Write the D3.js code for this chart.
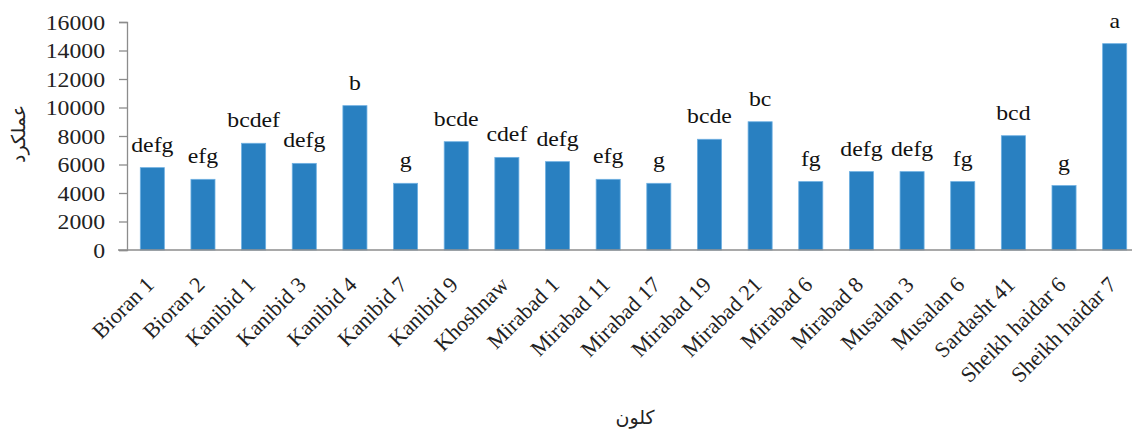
<!DOCTYPE html>
<html>
<head>
<meta charset="utf-8">
<script src="https://cdn.jsdelivr.net/npm/d3@7"></script>
<style>
  html, body { margin: 0; padding: 0; background: #fff; }
  svg { display: block; }
</style>
</head>
<body>
<script>
// Yield per clone with mean-separation letters
const clones = ["Bioran 1", "Bioran 2", "Kanibid 1", "Kanibid 3", "Kanibid 4", "Kanibid 7",
  "Kanibid 9", "Khoshnaw", "Mirabad 1", "Mirabad 11", "Mirabad 17", "Mirabad 19",
  "Mirabad 21", "Mirabad 6", "Mirabad 8", "Musalan 3", "Musalan 6", "Sardasht 41",
  "Sheikh haidar 6", "Sheikh haidar 7"];
const yields = [5780, 4960, 7490, 6080, 10130, 4680, 7600, 6500, 6200, 4960, 4680, 7770,
  9000, 4800, 5500, 5500, 4800, 8020, 4520, 14480];
const letters = ["defg", "efg", "bcdef", "defg", "b", "g", "bcde", "cdef", "defg", "efg", "g",
  "bcde", "bc", "fg", "defg", "defg", "fg", "bcd", "g", "a"];
const yTicks = [0, 2000, 4000, 6000, 8000, 10000, 12000, 14000, 16000];
const yTitle = "عملکرد";
const xTitle = "کلون";

const W = 1132, H = 431;
const plotL = 127, plotR = 1140, plotT = 22, plotB = 250;
const serif = "'Liberation Serif', 'Times New Roman', serif";
const stretch = 1.08; // slightly wide lettering

const svg = d3.select("body").append("svg").attr("width", W).attr("height", H);

const x = d3.scaleBand().domain(clones).range([plotL, plotR])
  .paddingInner(0.525).paddingOuter(0.2625);
const y = d3.scaleLinear().domain([0, 16000]).range([plotB, plotT]);

// bars
svg.append("g").selectAll("rect").data(clones).join("rect")
  .attr("x", d => x(d))
  .attr("y", (d, i) => y(yields[i]))
  .attr("width", x.bandwidth())
  .attr("height", (d, i) => y(0) - y(yields[i]))
  .attr("fill", "#2980c1")
  .attr("stroke", "#6fb0e2")
  .attr("stroke-width", 0.8);

// y axis
const yAxis = svg.append("g").attr("transform", `translate(${plotL},0)`)
  .call(d3.axisLeft(y).tickValues(yTicks).tickSize(8).tickPadding(14).tickFormat(d3.format("d")));
yAxis.select(".domain").attr("stroke", "#8c8c8c").attr("stroke-width", 1.3);
yAxis.selectAll(".tick line").attr("stroke", "#8c8c8c").attr("stroke-width", 1.3);
yAxis.selectAll(".tick text")
  .attr("font-family", serif).attr("font-size", 22).attr("fill", "#222")
  .attr("x", -22 / stretch)
  .attr("transform", `scale(${stretch},1)`);

// x axis baseline
svg.append("line")
  .attr("x1", 118).attr("x2", W).attr("y1", y(0)).attr("y2", y(0))
  .attr("stroke", "#8c8c8c").attr("stroke-width", 1.6);

// category labels, rotated
svg.append("g").selectAll("text").data(clones).join("text")
  .attr("transform", d => `translate(${x(d) + x.bandwidth() / 2 + 3},${286}) rotate(-45)`)
  .attr("text-anchor", "end")
  .attr("font-family", serif).attr("font-size", 22).attr("fill", "#222")
  .text(d => d);

// letters above bars
svg.append("g").selectAll("text").data(clones).join("text")
  .attr("transform", (d, i) => `translate(${x(d) + x.bandwidth() / 2},${y(yields[i]) - 16}) scale(${stretch},1)`)
  .attr("text-anchor", "middle")
  .attr("font-family", serif).attr("font-size", 22).attr("fill", "#111")
  .text((d, i) => letters[i]);

// axis titles
svg.append("text")
  .attr("transform", `translate(25,134) rotate(-90)`)
  .attr("text-anchor", "middle")
  .attr("font-family", "'DejaVu Sans', sans-serif").attr("font-size", 19).attr("fill", "#222")
  .text(yTitle);

svg.append("text")
  .attr("x", 635).attr("y", 424)
  .attr("text-anchor", "middle")
  .attr("font-family", "'DejaVu Sans', sans-serif").attr("font-size", 19).attr("fill", "#222")
  .text(xTitle);
</script>
</body>
</html>
